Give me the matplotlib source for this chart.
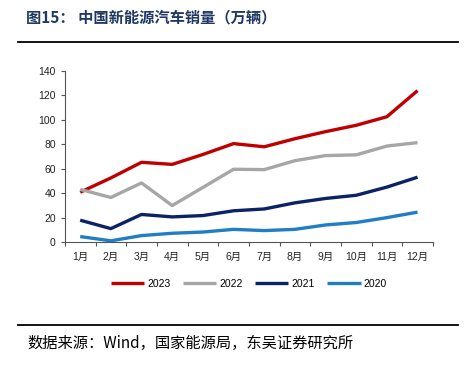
import numpy as np
import matplotlib
matplotlib.use("Agg")
import matplotlib.pyplot as plt
from matplotlib.lines import Line2D

plt.rcParams["font.family"] = ["Liberation Sans", "Noto Sans CJK SC", "DejaVu Sans"]

months = ["1月", "2月", "3月", "4月", "5月", "6月",
          "7月", "8月", "9月", "10月", "11月", "12月"]

sales_2023 = [40.8, 52.5, 65.3, 63.6, 71.7, 80.6, 78.0, 84.6, 90.4, 95.6, 102.6, 124.0]
sales_2022 = [43.1, 36.5, 48.4, 29.9, 44.7, 59.6, 59.3, 66.6, 70.8, 71.4, 78.6, 81.4]
sales_2021 = [17.9, 11.0, 22.6, 20.6, 21.7, 25.6, 27.1, 32.1, 35.7, 38.3, 45.0, 53.1]
sales_2020 = [4.5, 1.0, 5.3, 7.2, 8.2, 10.4, 9.4, 10.4, 14.0, 16.0, 20.0, 24.5]

series = [
    ("2023", sales_2023, "#C00000"),
    ("2022", sales_2022, "#A6A6A6"),
    ("2021", sales_2021, "#0B2265"),
    ("2020", sales_2020, "#1F7EC6"),
]

fig = plt.figure(figsize=(4.7, 3.8), dpi=100)

# header / footer
fig.text(0.055, 0.955, "图15： 中国新能源汽车销量（万辆）",
         family=["Noto Sans CJK SC"], fontweight="bold",
         fontsize=11, color="#1F3864", va="center")
fig.add_artist(Line2D([0.038, 0.975], [0.889, 0.889], color="black", lw=1.3))
fig.add_artist(Line2D([0.038, 0.975], [0.145, 0.145], color="black", lw=1.3))
fig.text(0.058, 0.097, "数据来源：Wind，国家能源局，东吴证券研究所",
         family=["Noto Sans CJK SC"], fontsize=11, color="black", va="center")

ax = fig.add_axes([0.138, 0.363, 0.783, 0.45])
x = np.arange(len(months))

for name, vals, color in series:
    ax.plot(x, vals, color=color, lw=2.4, label=name, solid_capstyle="butt")

ax.set_xlim(-0.5, len(months) - 0.5)
ax.set_ylim(0, 140)
ax.set_yticks(range(0, 141, 20))
ax.set_xticks(x)
ax.set_xticklabels(months)
ax.set_xticks(np.arange(-0.5, len(months)), minor=True)
ax.tick_params(axis="x", which="major", length=0, pad=7, labelsize=7.5, colors="#222222")
ax.tick_params(axis="x", which="minor", length=3, width=0.8, color="#555555")
ax.tick_params(axis="y", length=3, width=0.8, color="#555555", labelsize=7.5,
               labelcolor="#222222")

for side in ["top", "right"]:
    ax.spines[side].set_visible(False)
for side in ["left", "bottom"]:
    ax.spines[side].set_color("#555555")
    ax.spines[side].set_linewidth(0.8)

leg = ax.legend(loc="upper center", bbox_to_anchor=(0.5, -0.16), ncol=4,
                frameon=False, fontsize=7.5, handlelength=3.2,
                handletextpad=0.3, columnspacing=1.2)

fig.savefig("out.png", dpi=100)
